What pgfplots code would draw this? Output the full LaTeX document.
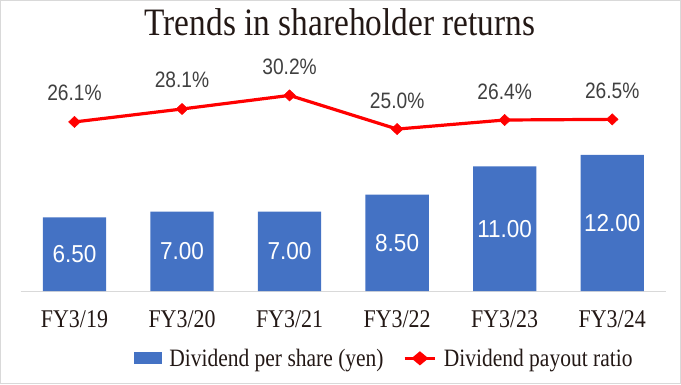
\documentclass[border=0pt]{standalone}
\usepackage{pgfplots}
\pgfplotsset{compat=1.18}
\usepackage{pgfplotstable}
\usepackage{fontspec}
\setmainfont{Liberation Serif}[FakeStretch=0.86]
\newfontfamily\pctfont{Liberation Sans}[FakeStretch=0.86]
\newfontfamily\barfont{Liberation Sans}[FakeStretch=0.92]
\definecolor{barblue}{HTML}{4472C4}
\definecolor{txt}{HTML}{231815}
\definecolor{lbl}{HTML}{404040}
\definecolor{gridgray}{HTML}{D9D9D9}

\pgfplotstableread{
x v
0 6.50
1 7.00
2 7.00
3 8.50
4 11.00
5 12.00
}\dps
\pgfplotstableread{
x r
0 26.1
1 28.1
2 30.2
3 25.0
4 26.4
5 26.5
}\ratio

\begin{document}
\begin{tikzpicture}[x=1pt,y=1pt]
\useasboundingbox (0,0) rectangle (681,384);
\draw[gridgray, line width=1.2pt] (0.6,0.6) rectangle (680.4,383.4);
\begin{axis}[
  at={(20.7pt,93pt)}, anchor=south west,
  scale only axis, width=645.3pt, height=226.7pt,
  xmin=-0.5, xmax=5.5, ymin=0, ymax=20,
  axis x line*=bottom, axis y line=none,
  x axis line style={gridgray, line width=1pt, -},
  xtick={0,1,2,3,4,5},
  xticklabels={FY3/19,FY3/20,FY3/21,FY3/22,FY3/23,FY3/24},
  major x tick style={draw=none},
  extra x ticks={-0.5,0.5,1.5,2.5,3.5,4.5,5.5},
  extra x tick labels={},
  extra x tick style={tick style={draw=gridgray, line width=1pt}, major tick length=8pt, tick pos=bottom, tick align=outside},
  xticklabel style={font=\fontsize{25.5}{30}\selectfont, text=txt, anchor=base, yshift=-36.7pt},
  title={Trends in shareholder returns},
  title style={font=\fontsize{38.8}{44}\selectfont, text=txt, at={(axis description cs:0.4948,1.0997)}, anchor=base},
  clip=false,
]
\addplot[ybar, bar width=63.3pt, fill=barblue, draw=none] table[x=x,y=v] {\dps};
\addplot[draw=none, mark=none, point meta=explicit,
  nodes near coords={\pgfmathprintnumber[fixed,fixed zerofill,precision=2,assume math mode=true]{\pgfplotspointmeta}},
  every node near coord/.append style={anchor=center, text=white, font=\barfont\fontsize{24.5}{28}\selectfont}]
  table[x=x, y expr=\thisrow{v}/2, meta=v] {\dps};
\end{axis}
\begin{axis}[
  at={(20.7pt,93pt)}, anchor=south west,
  scale only axis, width=645.3pt, height=226.7pt,
  xmin=-0.5, xmax=5.5, ymin=0, ymax=35,
  hide axis, clip=false,
  legend columns=2,
  legend style={at={(axis description cs:0.1756,-0.297)}, anchor=west, draw=none, fill=none,
    inner sep=0pt, outer sep=0pt,
    nodes={inner sep=0pt, text=txt, font=\fontsize{25}{30}\selectfont},
    /tikz/every odd column/.append style={column sep=7pt},
    /tikz/every even column/.append style={column sep=19.4pt}},
  legend cell align=left,
]
\addlegendimage{fill=barblue, draw=none, legend image code/.code={\fill[barblue] (0pt,-6pt) rectangle (28.3pt,6pt);}}
\addlegendentry{Dividend per share (yen)}
\addplot[red, line width=3.2pt, mark=diamond*,
  mark size=5.6pt, mark options={solid, fill=red, draw=red, line width=0.5pt, xscale=1.4},
  point meta=explicit,
  nodes near coords={\pgfmathprintnumber[fixed,fixed zerofill,precision=1,assume math mode=true]{\pgfplotspointmeta}\%},
  every node near coord/.append style={anchor=base, yshift=21pt, text=lbl, font=\pctfont\fontsize{22.3}{26}\selectfont},
  legend image code/.code={\draw[red, line width=3.2pt] (0pt,0pt) -- (30.6pt,0pt);
    \fill[red] (15.3pt,5pt) -- (21.3pt,0pt) -- (15.3pt,-5pt) -- (9.3pt,0pt) -- cycle;}
  ] table[x=x, y=r, meta=r] {\ratio};
\addlegendentry{Dividend payout ratio}
\end{axis}
\end{tikzpicture}
\end{document}
